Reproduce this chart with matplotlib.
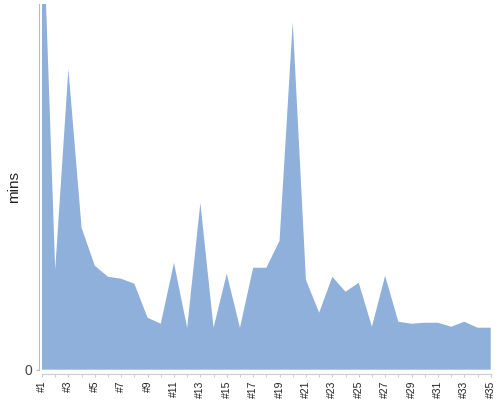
import matplotlib
matplotlib.use("Agg")
import matplotlib.pyplot as plt

plt.rcParams["font.family"] = ["Liberation Sans", "DejaVu Sans"]

# run labels and durations (mins)
runs = ["#%d" % i for i in range(1, 36)]
mins = [48.4, 10.0, 30.1, 14.2, 10.4, 9.3, 9.1, 8.6, 5.2, 4.6,
        10.7, 4.2, 16.7, 4.2, 9.6, 4.2, 10.2, 10.2, 12.9, 34.8,
        9.0, 5.7, 9.3, 7.8, 8.7, 4.3, 9.4, 4.8, 4.6, 4.7,
        4.7, 4.3, 4.8, 4.2, 4.2]
y_top = 36.6

fig = plt.figure(figsize=(5, 4), dpi=100)
ax = fig.add_axes([0.084, 0.0758, 0.8974, 0.9142])

x = list(range(1, len(mins) + 1))
ax.fill_between(x, 0, mins, color="#8eb0da", linewidth=0)
ax.set_xlim(1, len(mins))
ax.set_ylim(0, y_top)

# axes styling
for s in ["top", "right"]:
    ax.spines[s].set_visible(False)
ax.spines["left"].set_position(("outward", 2.5))
ax.spines["bottom"].set_position(("outward", 3.3))
ax.spines["left"].set_color("#bbbbbb")
ax.spines["bottom"].set_color("#cccccc")
ax.spines["left"].set_linewidth(0.8)
ax.spines["bottom"].set_linewidth(0.8)

ax.set_yticks([0])
ax.set_yticklabels(["0"], fontsize=10, color="#444444")
ax.tick_params(axis="y", length=2.5, width=0.8, color="#bbbbbb", pad=2)

ax.set_xticks(x)
ax.set_xticklabels([r if i % 2 == 0 else "" for i, r in enumerate(runs)],
                   rotation=90, fontsize=7.5, color="#222222")
ax.tick_params(axis="x", length=2.5, width=0.8, color="#cccccc", pad=2)

fig.text(14 / 500, 1 - 187 / 400, "mins", rotation=90, ha="center",
         va="center", fontsize=11, color="#222222")

fig.savefig("out.png", dpi=100)
